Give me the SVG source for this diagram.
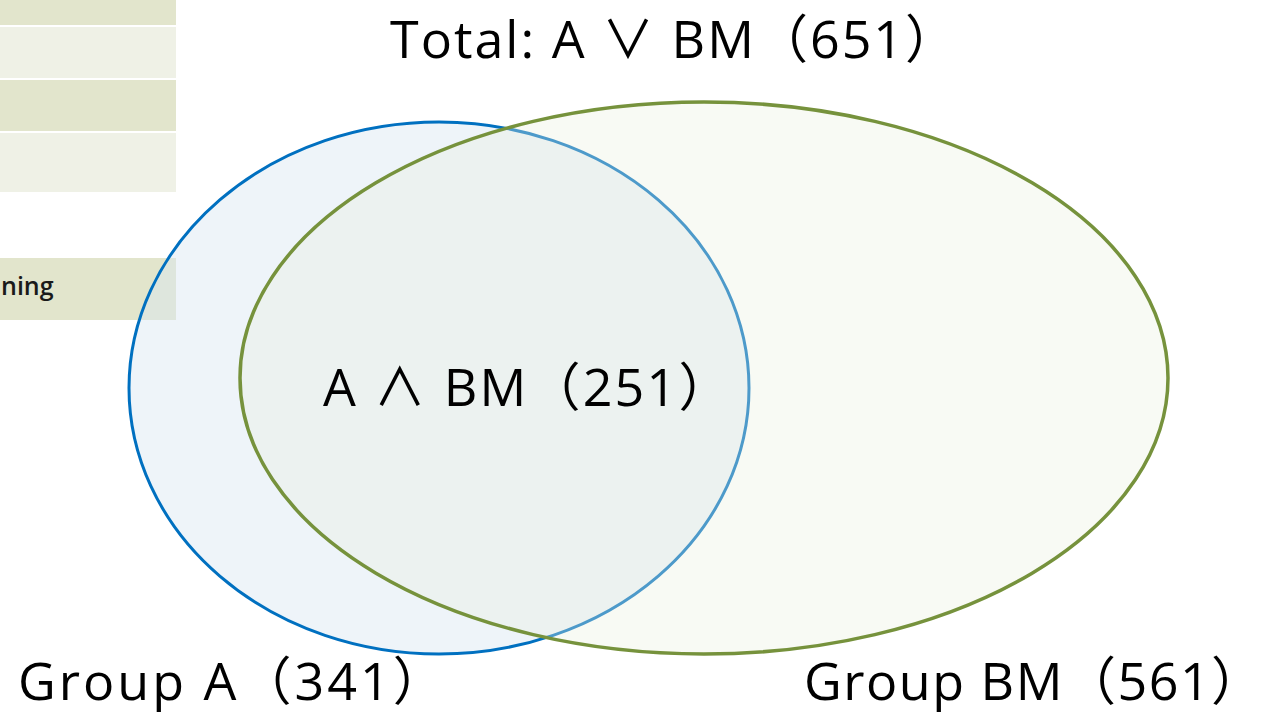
<svg xmlns="http://www.w3.org/2000/svg" width="1267" height="717" viewBox="0 0 1267 717">
  <style>
    .lbl { font-family: "Open Sans", "Noto Sans", "Noto Sans CJK SC", sans-serif; font-size: 52px; fill: #000000; letter-spacing: 2.6px; }
    .dark { fill: #e2e5cc; }
    .light { fill: #eff1e6; }
  </style>
  <rect width="1267" height="717" fill="#ffffff"/>
  <g id="background-table">
    <rect class="dark" x="0" y="0" width="176" height="25"/>
    <rect class="light" x="0" y="27" width="176" height="51"/>
    <rect class="dark" x="0" y="80" width="176" height="51"/>
    <rect class="light" x="0" y="133" width="176" height="59"/>
    <rect class="dark" x="0" y="258" width="176" height="62"/>
    <text x="1" y="295" font-family="'Open Sans', 'Noto Sans', sans-serif" font-size="25" font-weight="600" fill="#1a1a1a">ning</text>
  </g>
  <g id="group-a">
    <ellipse cx="439" cy="388" rx="310" ry="266" fill="#dae6f2" fill-opacity="0.45" stroke="#0070c0" stroke-width="3"/>
  </g>
  <g id="group-bm">
    <ellipse cx="704" cy="378" rx="464" ry="276" fill="#ebf1de" fill-opacity="0.33" stroke="#76923c" stroke-width="3.5"/>
  </g>
  <g id="connectors"></g>
  <g id="labels">
    <text class="lbl" x="390" y="58" style="letter-spacing:2px">Total: A ∨ BM（651）</text>
    <text class="lbl" x="323" y="406" style="letter-spacing:2.2px">A ∧ BM（251）</text>
    <text class="lbl" x="18" y="700" style="letter-spacing:3px">Group A（341）</text>
    <text class="lbl" x="804" y="700" style="letter-spacing:1.5px">Group BM（561）</text>
  </g>
</svg>
